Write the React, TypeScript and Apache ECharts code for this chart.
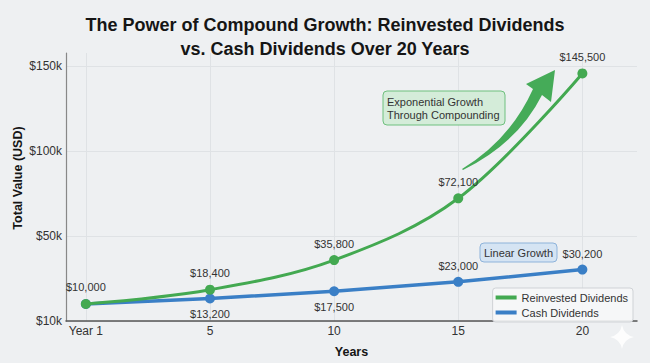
import React, { useEffect, useRef } from "react";
import * as echarts from "echarts";

const categories = ["Year 1", "5", "10", "15", "20"];
const reinvestedValues = [10000, 18400, 35800, 72100, 145500];
const cashValues = [10000, 13200, 17500, 23000, 30200];
const yTickValues = [0, 50000, 100000, 150000];
const yTickLabels = ["$10k", "$50k", "$100k", "$150k"];

const GREEN = "#43a951";
const BLUE = "#3a7fc6";
const FONT = "Liberation Sans, Arial, sans-serif";

const arrowPath =
  "M 462 169 Q 510 140 533 89 L 526 84 L 555 70 L 551 102 L 542 95 Q 518 143 463 170 Z";
const sparklePath =
  "M 622 325 Q 624 335 634 337 Q 624 339 622 349 Q 620 339 610 337 Q 620 335 622 325 Z";

let registered = false;
function registerShapes() {
  if (registered) return;
  echarts.graphic.registerShape("growthArrow", echarts.graphic.extendPath(arrowPath, {}) as any);
  echarts.graphic.registerShape("sparkle", echarts.graphic.extendPath(sparklePath, {}) as any);
  registered = true;
}

const fmtMoney = (v: number) => "$" + v.toLocaleString("en-US");

export default function App() {
  const ref = useRef<HTMLDivElement>(null);

  useEffect(() => {
    if (!ref.current) return;
    registerShapes();
    const chart = echarts.init(ref.current, undefined, { renderer: "svg" });

    const option: any = {
      animation: false,
      backgroundColor: "#eef0f2",
      textStyle: { fontFamily: FONT },
      title: {
        text: "The Power of Compound Growth: Reinvested Dividends\nvs. Cash Dividends Over 20 Years",
        left: "center",
        top: 8,
        textStyle: {
          fontFamily: FONT,
          fontSize: 18,
          fontWeight: "bold",
          color: "#151515",
          lineHeight: 24,
        },
      },
      grid: { left: 66, right: 13, top: 53, bottom: 40 },
      legend: {
        data: ["Reinvested Dividends", "Cash Dividends"],
        orient: "vertical",
        right: 17,
        top: 288,
        itemWidth: 21,
        itemHeight: 4,
        itemGap: 4,
        icon: "rect",
        padding: [4, 5, 4, 3],
        backgroundColor: "rgba(246,247,248,0.9)",
        borderColor: "#cfd2d6",
        borderWidth: 1,
        borderRadius: 3,
        textStyle: { fontFamily: FONT, fontSize: 11, color: "#333" },
      },
      xAxis: {
        type: "value",
        min: -0.16,
        max: 4.44,
        name: "Years",
        nameLocation: "middle",
        nameGap: 24,
        nameTextStyle: { fontFamily: FONT, fontSize: 12.5, fontWeight: "bold", color: "#151515" },
        axisLine: { show: true, onZero: false, lineStyle: { color: "#555", width: 1.5 } },
        axisTick: { show: false },
        splitLine: { show: false },
        axisLabel: {
          customValues: categories.map((_, i) => i),
          formatter: (v: number) => categories[Math.round(v)] ?? "",
          fontFamily: FONT,
          fontSize: 12,
          color: "#333",
          margin: 4,
        },
      },
      yAxis: {
        type: "value",
        min: 0,
        max: 157500,
        interval: 50000,
        axisLine: { show: true, onZero: false, lineStyle: { color: "#888", width: 1.2 } },
        axisTick: { show: false },
        splitLine: { show: true, showMaxLine: false, lineStyle: { color: "#dfe2e5", width: 1 } },
        axisLabel: {
          showMaxLabel: false,
          formatter: (v: number) => {
            const idx = yTickValues.indexOf(v);
            return idx >= 0 ? yTickLabels[idx] : "";
          },
          fontFamily: FONT,
          fontSize: 12,
          color: "#333",
          margin: 4,
        },
      },
      series: [
        {
          name: "grid",
          type: "line",
          data: [],
          z: 0,
          silent: true,
          markLine: {
            silent: true,
            z: 0,
            zlevel: 0,
            symbol: ["none", "none"],
            label: { show: false },
            lineStyle: { color: "#dfe2e5", width: 1, type: "solid" },
            data: categories.map((_, i) => ({ xAxis: i })),
          },
        },
        {
          name: "Cash Dividends",
          type: "line",
          z: 2,
          data: cashValues.map((v, i) => ({
            value: [i, v],
            label: {
              show: i > 0,
              position: i === 1 || i === 2 ? "bottom" : "top",
            },
          })),
          symbol: "circle",
          symbolSize: 10,
          itemStyle: { color: BLUE },
          lineStyle: { color: BLUE, width: 3.5 },
          label: {
            formatter: (p: any) => fmtMoney(p.value[1]),
            fontFamily: FONT,
            fontSize: 11,
            color: "#333",
            distance: 5,
          },
        },
        {
          name: "Reinvested Dividends",
          type: "line",
          z: 3,
          smooth: 0.35,
          data: reinvestedValues.map((v, i) => [i, v]),
          symbol: "circle",
          symbolSize: 10,
          itemStyle: { color: GREEN },
          lineStyle: { color: GREEN, width: 3 },
          label: {
            show: true,
            position: "top",
            formatter: (p: any) => fmtMoney(p.value[1]),
            fontFamily: FONT,
            fontSize: 11,
            color: "#333",
            distance: 6,
          },
        },
      ],
      graphic: [
        {
          type: "text",
          x: 18,
          y: 178,
          rotation: Math.PI / 2,
          style: {
            text: "Total Value (USD)",
            fontFamily: FONT,
            fontSize: 12.5,
            fontWeight: "bold",
            fill: "#151515",
            align: "center",
            verticalAlign: "middle",
          },
        },
        {
          type: "growthArrow",
          x: 0,
          y: 0,
          z: 10,
          style: { fill: "#45ab58" },
        },
        {
          type: "rect",
          z: 10,
          shape: { x: 383, y: 91, width: 122, height: 34, r: 4 },
          style: { fill: "#d4ecd9", stroke: "#6fc07e", lineWidth: 1 },
        },
        {
          type: "text",
          z: 11,
          x: 387,
          y: 108,
          style: {
            text: "Exponential Growth\nThrough Compounding",
            fontFamily: FONT,
            fontSize: 11,
            lineHeight: 13,
            fill: "#333",
            align: "left",
            verticalAlign: "middle",
          },
        },
        {
          type: "rect",
          z: 10,
          shape: { x: 480, y: 243, width: 77, height: 19, r: 4 },
          style: { fill: "#d5e4f3", stroke: "#8eb3da", lineWidth: 1 },
        },
        {
          type: "text",
          z: 11,
          x: 518.5,
          y: 253,
          style: {
            text: "Linear Growth",
            fontFamily: FONT,
            fontSize: 11,
            fill: "#333",
            align: "center",
            verticalAlign: "middle",
          },
        },
        {
          type: "sparkle",
          x: 0,
          y: 0,
          z: 10,
          style: { fill: "#ffffff", opacity: 0.85 },
        },
      ],
    };

    chart.setOption(option);
    return () => chart.dispose();
  }, []);

  return (
    <div
      ref={ref}
      style={{ position: "fixed", left: 0, top: 0, width: 650, height: 363 }}
    />
  );
}
